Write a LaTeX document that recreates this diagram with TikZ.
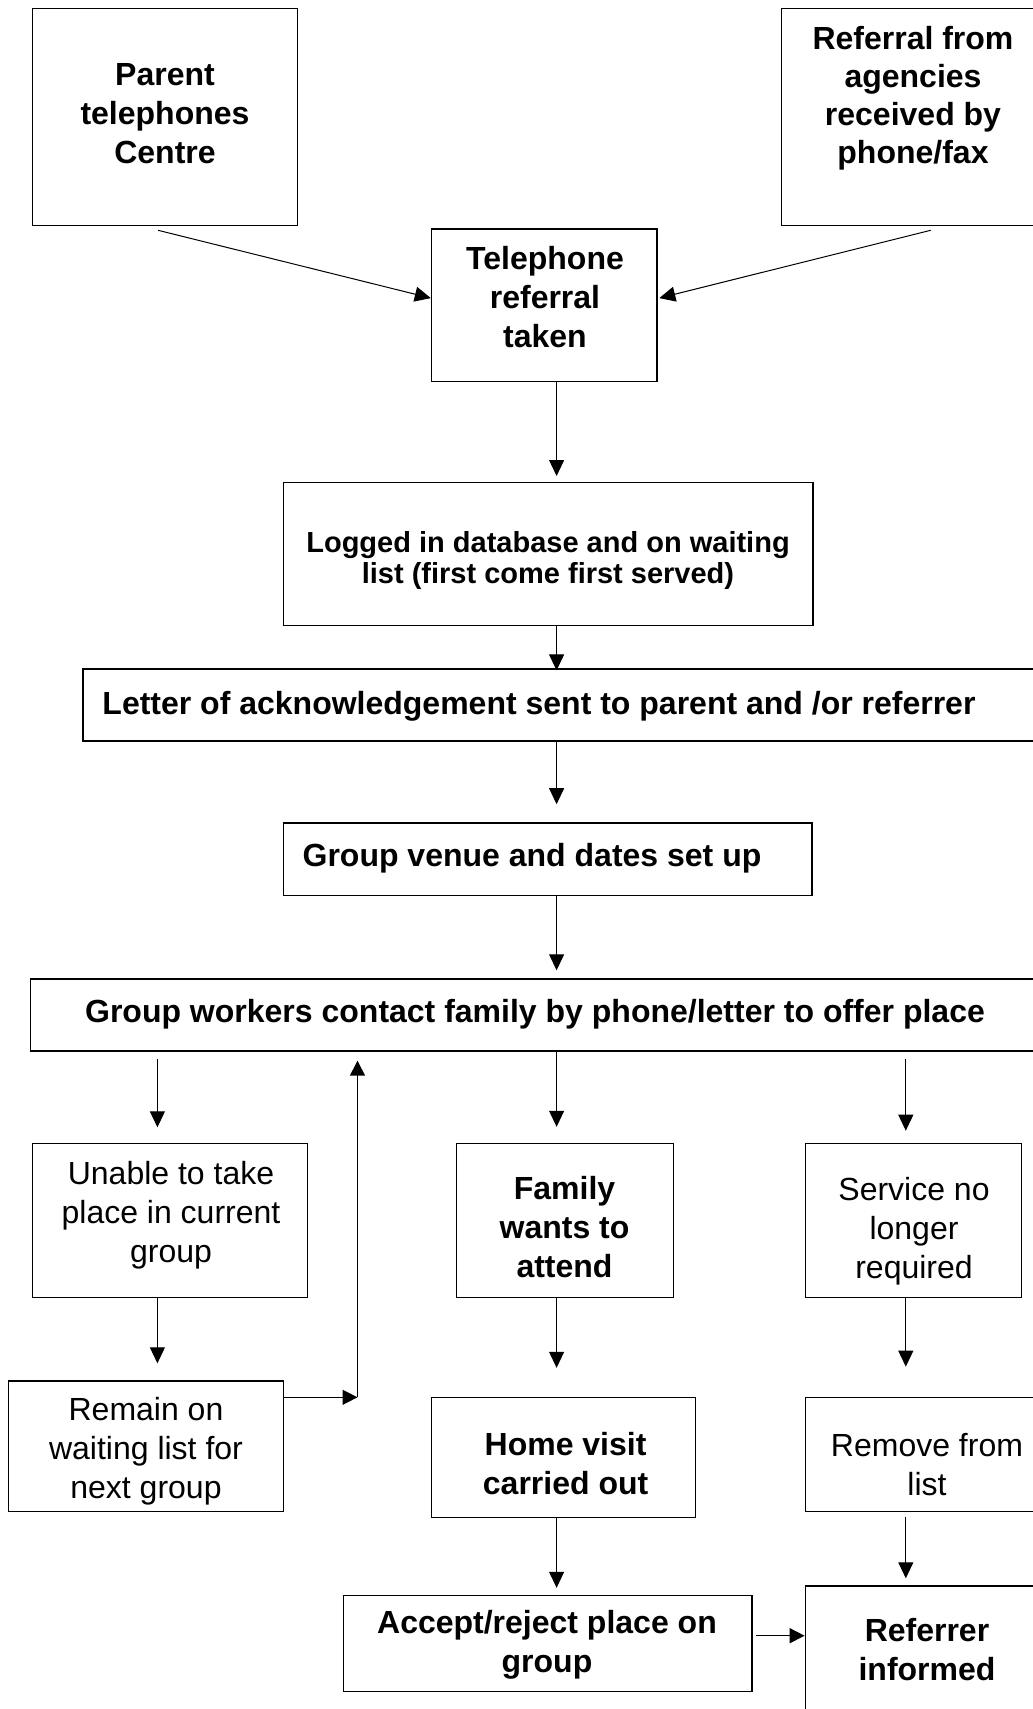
\documentclass[tikz,border=0pt]{standalone}
\usepackage{fontspec}
\setmainfont{Liberation Sans}
\usetikzlibrary{arrows.meta,calc}
\begin{document}
\begin{tikzpicture}[x=0.5pt,y=-0.5pt,
  box/.style={draw,line width=0.7pt,rectangle,inner sep=0pt},
  btxt/.style={align=center,inner sep=0pt,font=\fontsize{16}{19.5}\selectfont\bfseries},
  ntxt/.style={align=center,inner sep=0pt,font=\fontsize{16}{19.5}\selectfont},
  arr/.style={line width=0.5pt,-{Triangle[length=8pt,width=7.5pt]}},
  thickarr/.style={line width=0.75pt,-{Triangle[length=7.5pt,width=7.5pt]}}]
\useasboundingbox (0,0) rectangle (1033,1709);
\begin{scope}
\clip (0,0) rectangle (1033,1709);
% boxes
\node[box,minimum width=132.4pt,minimum height=108.45pt] (parent) at (165.1,117.15) {};
\node[box,minimum width=132.4pt,minimum height=108.45pt] (ref) at (913.7,117.15) {};
\node[box,minimum width=112.8pt,minimum height=76.3pt] (tel) at (544.3,305.1) {};
\node[box,minimum width=264.8pt,minimum height=71.4pt] (logged) at (548.1,554.1) {};
\node[box,minimum width=481.1pt,minimum height=35.95pt] (letter) at (563.9,705.05) {};
\node[box,minimum width=264.25pt,minimum height=36.2pt] (venue) at (547.55,859.1) {};
\node[box,minimum width=507.25pt,minimum height=36pt] (workers) at (537.75,1015) {};
\node[box,minimum width=137.3pt,minimum height=77pt] (unable) at (170,1220.5) {};
\node[box,minimum width=108.4pt,minimum height=77pt] (family) at (565,1220.5) {};
\node[box,minimum width=108pt,minimum height=77pt] (service) at (913.5,1220.5) {};
\node[box,minimum width=137.3pt,minimum height=65.25pt] (remain) at (146,1446.25) {};
\node[box,minimum width=131.85pt,minimum height=60pt] (home) at (563.35,1457.5) {};
\node[box,minimum width=119.85pt,minimum height=57.15pt] (remove) at (925.15,1454.5) {};
\node[box,minimum width=204.3pt,minimum height=48pt] (accept) at (547.6,1643.5) {};
\node[box,minimum width=119.85pt,minimum height=72pt] (referrer) at (925.15,1658) {};
% texts
\node[btxt] (tparent) at (165,113.6) {Parent\\telephones\\Centre};
\node[align=center,inner sep=0pt,font=\fontsize{16}{18.9}\selectfont\bfseries] (tref) at (913,98.3) {Referral from\\agencies\\received by\\phone/fax};
\node[btxt] (ttel) at (545,297) {Telephone\\referral\\taken};
\node[align=center,inner sep=0pt,font=\fontsize{14.5}{15.8}\selectfont\bfseries] (tlogged) at (548,560.3) {Logged in database and on waiting\\list (first come first served)};
\node[btxt] (tletter) at (539,706.3) {Letter of acknowledgement sent to parent and /or referrer};
\node[btxt] (tvenue) at (532,858.3) {Group venue and dates set up};
\node[btxt] (tworkers) at (535,1014.3) {Group workers contact family by phone/letter to offer place};
\node[ntxt] (tunable) at (171,1215.7) {Unable to take\\place in current\\group};
\node[btxt] (tfamily) at (564.5,1227.5) {Family\\wants to\\attend};
\node[ntxt] (tservice) at (914,1231) {Service no\\longer\\required};
\node[ntxt] (tremain) at (146,1451.3) {Remain on\\waiting list for\\next group};
\node[btxt] (thome) at (565.6,1463.5) {Home visit\\carried out};
\node[ntxt] (tremove) at (927,1464.5) {Remove from\\list};
\node[btxt] (taccept) at (547,1644.3) {Accept/reject place on\\group};
\node[btxt] (treferrer) at (927,1649.5) {Referrer\\informed};
% column coordinates
\coordinate (cx) at (556.6,0);
\coordinate (lx) at (157.4,0);
\coordinate (rx) at (905.8,0);
\coordinate (l1) at (157.4,1059.3);
\coordinate (l2) at (157.4,1127.3);
\coordinate (r1) at (905.8,1059.3);
\coordinate (r2) at (905.8,1130.7);
\coordinate (up1) at (357.5,1397.3);
\coordinate (up2) at (357.5,1060.7);
\coordinate (rm1) at (905.8,1516.7);
\coordinate (rm2) at (905.8,1578.3);
\coordinate (ac1) at (756.3,1635.7);
% connectors
\draw[arr] ($(parent.south)+(-7,4)$) -- ($(tel.west)+(0,-7)$);
\draw[arr] ($(ref.south)+(17,4)$) -- ($(tel.east)+(1.5,-7)$);
\draw[arr] (tel.south -| cx) -- ($(logged.north -| cx)+(0,-6)$);
\draw[arr] (logged.south -| cx) -- ($(letter.north -| cx)+(0,2)$);
\draw[arr] (letter.south -| cx) -- ($(venue.north -| cx)+(0,-18)$);
\draw[arr] (venue.south -| cx) -- ($(workers.north -| cx)+(0,-8)$);
\draw[arr] (workers.south -| cx) -- ($(family.north -| cx)+(0,-16)$);
\draw[arr] (l1) -- (l2);
\draw[arr] (r1) -- (r2);
\draw[thickarr] (up1) -- (up2);
\draw[thickarr] (remain.east |- up1) -- (up1);
\draw[arr] (unable.south -| lx) -- ($(remain.north -| lx)+(0,-17)$);
\draw[arr] (family.south -| cx) -- ($(home.north -| cx)+(0,-29)$);
\draw[arr] (service.south -| rx) -- ($(remove.north -| rx)+(0,-30)$);
\draw[arr] (home.south -| cx) -- ($(accept.north -| cx)+(0,-7)$);
\draw[arr] (rm1) -- (rm2);
\draw[thickarr] (ac1) -- (referrer.west |- ac1);
\end{scope}
\end{tikzpicture}
\end{document}
